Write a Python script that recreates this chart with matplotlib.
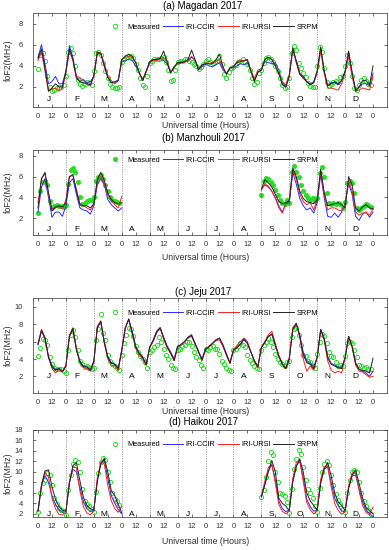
import numpy as np
import matplotlib
matplotlib.use("Agg")
import matplotlib.pyplot as plt

plt.rcParams['font.family'] = ['Liberation Sans', 'DejaVu Sans']

months = ['J', 'F', 'M', 'A', 'M', 'J', 'J', 'A', 'S', 'O', 'N', 'D']
H3 = [0, 3, 6, 9, 12, 15, 18, 21]           # model sample hours within a month
H2 = [0, 2, 4, 6, 8, 10, 12, 14, 16, 18, 20, 22]  # measured sample hours

# ---------------- (a) Magadan ----------------
a_ccir = [
    [4.8, 6.0, 4.2, 2.3, 2.5, 3.0, 2.3, 2.3],
    [3.5, 5.9, 4.8, 3.0, 2.5, 2.7, 2.4, 2.5],
    [3.0, 5.2, 5.2, 4.0, 2.9, 2.4, 2.4, 2.7],
    [4.4, 4.5, 4.6, 4.5, 4.0, 3.3, 2.7, 3.5],
    [4.3, 4.6, 4.6, 4.7, 4.5, 4.2, 3.4, 3.9],
    [4.2, 4.3, 4.4, 4.5, 4.8, 4.5, 3.7, 3.9],
    [4.2, 4.0, 3.9, 4.1, 4.3, 3.6, 3.3, 3.8],
    [3.8, 4.0, 4.2, 4.1, 4.3, 3.5, 2.6, 3.4],
    [3.6, 4.4, 4.3, 4.2, 4.3, 3.6, 2.4, 2.0],
    [3.0, 5.6, 4.5, 3.3, 3.0, 2.5, 2.3, 2.5],
    [3.5, 5.7, 3.5, 2.1, 2.4, 2.4, 2.2, 2.6],
    [3.5, 5.2, 3.3, 1.7, 2.0, 2.3, 2.3, 2.1]]
a_ursi = [
    [4.5, 5.3, 3.5, 1.6, 1.8, 1.9, 1.6, 1.9],
    [3.3, 5.4, 4.5, 3.0, 2.9, 2.6, 2.3, 2.1],
    [3.0, 5.3, 5.2, 4.2, 3.1, 2.6, 2.3, 2.6],
    [4.6, 4.8, 4.9, 4.8, 4.3, 3.3, 2.6, 3.4],
    [4.3, 4.5, 4.5, 4.7, 4.8, 4.5, 3.4, 3.8],
    [4.3, 4.4, 4.3, 4.5, 4.9, 4.5, 3.7, 4.0],
    [4.3, 4.4, 4.3, 4.4, 4.6, 3.8, 3.2, 3.8],
    [3.9, 4.4, 4.5, 4.5, 4.5, 3.6, 2.8, 3.6],
    [3.7, 4.6, 4.8, 4.6, 4.0, 3.2, 2.5, 2.2],
    [3.2, 5.6, 4.3, 3.2, 2.8, 2.5, 2.2, 2.4],
    [3.3, 5.4, 3.3, 1.9, 1.9, 1.8, 1.7, 2.3],
    [3.3, 4.9, 3.0, 1.6, 1.7, 1.9, 1.8, 1.7]]
a_srpm = [
    [4.7, 5.6, 3.8, 1.6, 1.9, 2.3, 2.0, 2.0],
    [3.5, 5.6, 4.6, 2.8, 2.5, 2.4, 2.3, 2.2],
    [3.1, 5.3, 5.1, 4.0, 2.9, 2.4, 2.5, 2.6],
    [4.6, 4.9, 5.1, 4.9, 4.3, 3.4, 2.6, 3.5],
    [4.4, 4.6, 4.6, 4.7, 5.4, 4.3, 3.3, 3.9],
    [4.3, 4.3, 4.4, 4.6, 5.5, 4.6, 3.6, 4.1],
    [4.2, 4.2, 4.2, 4.6, 5.1, 3.9, 3.2, 3.8],
    [3.9, 4.3, 4.4, 4.5, 4.6, 3.5, 2.5, 3.4],
    [3.6, 4.6, 4.8, 4.6, 4.0, 3.3, 2.2, 2.0],
    [3.0, 5.7, 4.4, 3.2, 2.9, 2.5, 2.2, 2.4],
    [3.5, 5.8, 3.5, 2.1, 2.3, 2.5, 2.3, 2.6],
    [3.5, 5.4, 3.4, 1.6, 2.0, 2.6, 2.6, 2.2]]
a_meas = [
    [3.7, 5.0, 5.2, 4.5, 3.0, 2.0, 1.6, 1.7, 1.9, 2.0, 2.0, 2.2],
    [3.0, 5.3, 5.7, 5.2, 4.0, 2.7, 2.3, 2.1, 2.3, 2.5, 2.4, 2.2],
    [3.5, 5.2, 5.3, 5.0, 4.3, 3.5, 2.8, 2.3, 2.0, 1.9, 1.9, 2.0],
    [4.4, 4.6, 4.8, 4.9, 4.9, 4.7, 4.2, 3.6, 2.8, 2.2, 2.0, 3.0],
    [4.3, 4.5, 4.6, 4.6, 4.6, 4.7, 4.8, 4.4, 3.6, 2.6, 2.7, 3.6],
    [4.4, 4.5, 4.5, 4.6, 4.6, 4.5, 4.4, 4.2, 4.0, 3.7, 3.9, 4.2],
    [4.5, 4.6, 4.4, 4.3, 4.4, 4.5, 4.9, 4.2, 3.2, 2.8, 3.4, 3.8],
    [3.9, 4.1, 4.4, 4.5, 4.6, 4.4, 4.2, 3.6, 2.8, 2.3, 2.5, 3.3],
    [3.6, 4.3, 4.7, 4.8, 4.6, 4.4, 4.0, 3.5, 2.8, 2.2, 1.9, 2.0],
    [2.8, 5.2, 5.9, 5.5, 4.3, 3.8, 3.3, 2.9, 2.4, 2.1, 2.0, 2.0],
    [4.0, 5.8, 5.3, 3.8, 2.5, 2.1, 2.3, 2.5, 2.6, 2.5, 2.9, 3.0],
    [4.0, 5.0, 4.3, 3.0, 1.9, 1.7, 2.2, 2.7, 2.8, 2.6, 2.3, 2.2]]
a_end_hours = [288]
a_ccir_end = [3.3]
a_ursi_end = [3.0]
a_srpm_end = [4.0]

# ---------------- (b) Manzhouli ----------------
b_ccir = [
    [2.6, 5.0, 5.8, 4.0, 2.1, 2.6, 2.6, 2.2],
    [3.2, 5.4, 5.8, 4.3, 3.0, 2.8, 2.7, 2.4],
    [3.2, 5.2, 5.8, 5.2, 3.8, 3.3, 3.0, 2.7],
    None, None, None, None, None,
    [4.8, 5.2, 5.0, 4.6, 4.0, 3.2, 2.6, 3.4],
    [3.5, 6.4, 5.3, 3.9, 3.2, 2.8, 3.0, 2.5],
    [3.5, 6.2, 4.0, 2.2, 2.1, 2.5, 2.1, 2.6],
    [3.5, 5.3, 4.3, 2.2, 1.8, 2.4, 2.6, 2.1]]
b_ursi = [
    [3.5, 5.8, 6.3, 4.3, 2.9, 3.0, 3.1, 2.9],
    [3.8, 6.0, 6.1, 4.8, 3.4, 3.2, 3.0, 2.8],
    [3.4, 5.6, 6.0, 5.3, 4.2, 3.7, 3.3, 3.0],
    None, None, None, None, None,
    [4.7, 5.3, 5.1, 4.6, 3.9, 3.0, 2.5, 3.4],
    [3.7, 6.6, 5.8, 4.3, 3.6, 3.3, 3.5, 2.8],
    [3.8, 6.4, 4.3, 2.8, 3.0, 3.0, 2.8, 2.7],
    [3.3, 5.6, 4.6, 2.6, 2.3, 2.5, 2.6, 2.3]]
b_srpm = [
    [3.0, 5.8, 6.4, 4.5, 2.7, 3.1, 3.2, 3.1],
    [3.5, 6.0, 6.2, 4.6, 3.3, 3.2, 3.2, 3.0],
    [3.4, 5.7, 6.4, 5.6, 4.4, 3.8, 3.5, 3.4],
    None, None, None, None, None,
    [4.8, 5.7, 5.4, 5.0, 4.3, 3.6, 3.4, 3.5],
    [3.7, 6.8, 6.0, 4.6, 3.9, 3.6, 3.5, 3.4],
    [3.8, 6.7, 4.5, 3.2, 3.3, 3.4, 3.5, 3.3],
    [3.0, 6.0, 5.2, 3.0, 2.7, 3.1, 3.3, 3.0]]
b_meas = [
    [2.5, 4.6, 5.5, 5.6, 5.2, 3.7, 3.0, 3.2, 3.3, 3.2, 3.2, 3.1],
    [3.3, 5.3, 6.6, 6.8, 6.4, 5.5, 4.0, 3.4, 3.5, 3.7, 3.8, 3.8],
    [4.0, 5.6, 6.0, 6.2, 5.8, 5.2, 4.6, 4.0, 3.8, 3.7, 3.6, 3.5],
    None, None, None, None, None,
    [4.2, 5.6, 5.9, 5.8, 5.5, 5.2, 4.7, 4.2, 3.8, 3.5, 3.4, 3.8],
    [3.5, 6.4, 7.0, 6.4, 6.0, 5.2, 4.6, 4.2, 3.9, 3.8, 3.9, 3.7],
    [3.9, 6.3, 6.9, 6.0, 4.4, 3.5, 3.4, 3.5, 3.4, 3.5, 3.4, 3.0],
    [3.6, 5.4, 5.6, 5.4, 4.4, 3.0, 2.8, 3.0, 3.2, 3.4, 3.3, 3.1]]
b_end_hours = [72, 288]
b_ccir_end = [3.0, 2.6]
b_ursi_end = [4.1, 2.9]
b_srpm_end = [3.5, 2.9]

# ---------------- (c) Jeju ----------------
c_ccir = [
    [5.6, 7.2, 6.3, 4.3, 3.3, 2.8, 2.9, 2.6],
    [3.2, 6.6, 7.4, 5.2, 3.8, 3.2, 3.1, 2.8],
    [3.8, 7.6, 8.2, 6.0, 4.3, 3.6, 3.4, 2.9],
    [5.0, 7.6, 8.5, 7.2, 5.5, 4.7, 4.2, 3.4],
    [5.3, 6.2, 7.2, 7.6, 6.5, 5.5, 4.8, 4.0],
    [5.5, 5.6, 6.0, 6.5, 6.8, 5.8, 4.9, 4.0],
    [5.2, 5.4, 5.8, 6.2, 6.4, 5.6, 4.6, 3.6],
    [5.0, 5.3, 5.7, 6.2, 5.8, 4.8, 3.8, 3.2],
    [5.3, 5.9, 6.6, 6.8, 5.6, 4.4, 3.5, 3.0],
    [4.0, 7.4, 8.0, 6.8, 4.8, 3.8, 3.6, 3.1],
    [4.2, 7.4, 6.4, 4.3, 3.5, 3.3, 3.1, 3.0],
    [4.2, 6.6, 5.5, 3.6, 2.8, 2.6, 2.4, 2.0]]
c_ursi = [
    [5.8, 7.4, 6.5, 4.2, 2.9, 2.4, 2.8, 2.6],
    [3.3, 6.7, 7.6, 5.2, 3.6, 3.0, 2.9, 2.6],
    [3.6, 7.8, 8.4, 5.8, 4.0, 3.3, 3.2, 2.7],
    [5.1, 7.6, 8.6, 6.8, 5.2, 4.4, 4.0, 3.3],
    [5.3, 6.0, 7.0, 7.5, 6.3, 5.3, 4.6, 3.8],
    [5.3, 5.6, 6.0, 6.4, 6.6, 5.7, 4.8, 3.8],
    [5.0, 5.5, 5.8, 6.1, 6.2, 5.4, 4.4, 3.5],
    [5.1, 5.5, 6.0, 6.4, 6.0, 4.8, 3.7, 3.0],
    [5.4, 6.0, 6.8, 7.2, 5.8, 4.4, 3.4, 2.9],
    [4.2, 7.6, 8.1, 6.5, 4.0, 2.6, 3.2, 2.7],
    [4.2, 7.3, 6.2, 3.8, 2.7, 2.4, 2.6, 2.4],
    [4.2, 6.6, 5.4, 3.3, 2.6, 2.5, 2.2, 1.9]]
c_srpm = [
    [5.7, 7.3, 6.4, 4.2, 3.1, 2.7, 2.9, 2.5],
    [3.2, 6.6, 7.5, 5.0, 3.7, 3.1, 3.1, 2.7],
    [3.7, 7.6, 8.3, 5.9, 4.2, 3.5, 3.4, 2.9],
    [5.0, 7.5, 8.6, 7.0, 5.4, 4.6, 4.2, 3.3],
    [5.4, 6.1, 7.1, 7.6, 6.4, 5.4, 4.7, 3.8],
    [5.4, 5.7, 6.0, 6.5, 6.7, 5.8, 4.8, 3.9],
    [5.1, 5.4, 5.8, 6.2, 6.4, 5.6, 4.5, 3.5],
    [5.0, 5.3, 5.7, 6.3, 5.8, 4.8, 3.8, 3.1],
    [5.3, 5.9, 6.6, 6.9, 5.6, 4.3, 3.4, 2.9],
    [4.0, 7.4, 8.1, 6.6, 4.5, 3.6, 3.4, 2.9],
    [4.2, 7.4, 6.3, 4.1, 3.4, 3.2, 3.0, 2.9],
    [4.1, 6.6, 5.4, 3.5, 2.8, 2.7, 2.6, 2.4]]
c_meas = [
    [4.3, 5.3, 6.3, 6.2, 5.6, 4.2, 3.4, 3.0, 2.8, 2.8, 2.9, 2.6],
    [2.4, 5.0, 6.8, 7.3, 6.5, 5.0, 3.8, 3.4, 3.1, 3.2, 3.0, 2.9],
    [3.0, 6.2, 7.4, 9.2, 7.0, 6.2, 4.5, 3.8, 3.4, 3.2, 3.0, 2.7],
    [4.5, 5.8, 6.8, 7.6, 7.4, 6.6, 5.5, 4.8, 4.3, 4.0, 3.6, 3.0],
    [4.8, 5.0, 5.4, 5.6, 6.5, 6.0, 5.2, 4.5, 4.0, 3.3, 3.0, 2.9],
    [5.0, 5.2, 5.5, 5.6, 6.0, 6.0, 5.5, 4.8, 4.2, 3.9, 3.3, 3.0],
    [5.2, 5.0, 5.4, 5.5, 5.2, 5.1, 4.6, 3.8, 3.4, 3.0, 2.7, 2.6],
    [5.0, 5.2, 5.5, 5.8, 5.6, 5.4, 4.5, 3.9, 3.5, 3.2, 3.0, 2.9],
    [5.0, 5.6, 6.0, 6.4, 6.0, 5.4, 4.6, 4.0, 3.7, 3.4, 3.2, 3.6],
    [3.8, 6.5, 7.5, 7.6, 6.8, 5.6, 4.5, 4.4, 3.8, 3.6, 3.2, 3.0],
    [4.6, 6.0, 6.9, 6.6, 5.8, 4.8, 4.4, 4.2, 3.6, 3.2, 3.3, 3.2],
    [4.3, 5.8, 6.0, 5.8, 5.0, 4.2, 3.3, 3.2, 3.0, 3.1, 2.8, 2.9]]
c_end_hours = [288]
c_ccir_end = [2.6]
c_ursi_end = [2.0]
c_srpm_end = [4.1]

# ---------------- (d) Haikou ----------------
d_ccir = [
    [2.6, 7.5, 9.3, 8.0, 5.5, 3.8, 2.8, 2.3],
    [2.4, 8.0, 10.5, 10.0, 7.0, 4.3, 3.0, 2.4],
    [2.8, 8.5, 11.8, 12.2, 8.8, 5.5, 4.0, 2.8],
    None, None, None, None, None,
    [5.3, 7.8, 10.2, 11.4, 8.5, 4.5, 3.0, 2.4],
    [2.8, 8.5, 11.3, 12.0, 8.8, 4.8, 3.4, 2.5],
    [2.8, 8.2, 10.5, 11.0, 8.0, 5.0, 3.6, 2.5],
    [2.5, 7.0, 9.2, 9.4, 6.8, 4.2, 2.8, 2.0]]
d_ursi = [
    [2.4, 7.6, 10.0, 9.0, 5.0, 3.0, 1.9, 1.8],
    [2.3, 8.2, 10.9, 10.8, 6.4, 3.4, 2.2, 1.8],
    [2.6, 8.8, 11.9, 11.5, 7.4, 4.5, 3.0, 2.3],
    None, None, None, None, None,
    [5.4, 8.2, 10.8, 11.5, 7.8, 3.8, 2.5, 2.0],
    [2.6, 8.7, 11.8, 12.2, 8.2, 4.2, 2.8, 2.0],
    [2.6, 8.6, 11.0, 11.0, 7.2, 4.0, 2.7, 1.9],
    [2.4, 7.4, 9.8, 9.8, 6.5, 3.6, 2.3, 1.8]]
d_srpm = [
    [2.5, 7.3, 10.2, 10.4, 7.2, 4.8, 3.4, 2.7],
    [2.5, 7.8, 11.2, 11.8, 8.3, 5.2, 3.6, 3.0],
    [2.7, 8.2, 11.5, 12.6, 10.0, 6.4, 5.5, 3.8],
    None, None, None, None, None,
    [5.2, 7.5, 10.0, 12.2, 10.0, 5.0, 4.0, 3.5],
    [2.6, 8.0, 11.0, 12.5, 10.0, 6.0, 4.5, 3.6],
    [2.7, 7.8, 10.6, 11.8, 9.3, 6.0, 4.3, 3.6],
    [2.6, 6.8, 9.4, 10.4, 7.8, 5.0, 3.2, 2.6]]
d_meas = [
    [2.4, 6.0, 7.8, 8.5, 9.8, 9.5, 7.5, 5.0, 3.8, 3.2, 2.8, 2.6],
    [1.8, 6.5, 9.5, 11.5, 12.2, 11.8, 10.0, 6.8, 4.5, 3.8, 3.5, 3.0],
    [2.4, 6.2, 9.8, 11.8, 12.6, 12.2, 10.0, 8.0, 6.0, 4.8, 4.5, 3.6],
    None, None, None, None, None,
    [5.3, 6.6, 9.0, 12.0, 13.8, 13.2, 10.0, 8.0, 6.0, 5.8, 5.5, 4.2],
    [2.2, 6.8, 10.5, 12.5, 14.2, 13.5, 11.0, 8.5, 6.8, 6.0, 5.0, 3.5],
    [2.4, 7.0, 10.0, 11.6, 12.0, 11.4, 9.5, 7.5, 5.8, 4.6, 3.8, 3.0],
    [2.3, 6.0, 8.5, 10.0, 10.3, 10.0, 8.0, 6.0, 4.5, 3.5, 2.8, 2.0]]
d_end_hours = [72, 288]
d_ccir_end = [2.0, 1.5]
d_ursi_end = [3.4, 3.3]
d_srpm_end = [2.2, 2.0]


def build(rows, hours, end_vals=(), end_hours=()):
    xs, ys = [], []
    for m, row in enumerate(rows):
        if row is None:
            xs.append(m * 24 + 12)
            ys.append(np.nan)
            continue
        xs += [m * 24 + h for h in hours]
        ys += list(row)
    xs += list(end_hours)
    ys += list(end_vals)
    order = np.argsort(xs, kind='stable')
    return np.array(xs)[order], np.array(ys, dtype=float)[order]


panels = [
    dict(title='(a) Magadan 2017', ccir=a_ccir, ursi=a_ursi, srpm=a_srpm, meas=a_meas,
         ends=(a_ccir_end, a_ursi_end, a_srpm_end), eh=a_end_hours,
         ylim=(0.1, 9.0), yticks=[2, 4, 6, 8], mon_y=0.85, filled=False,
         top=13, bottom=107, title_y=6, xlab_y=126, leg_y=0.85),
    dict(title='(b) Manzhouli 2017', ccir=b_ccir, ursi=b_ursi, srpm=b_srpm, meas=b_meas,
         ends=(b_ccir_end, b_ursi_end, b_srpm_end), eh=b_end_hours,
         ylim=(0.4, 8.55), yticks=[2, 4, 6, 8], mon_y=0.88, filled=True,
         top=150, bottom=235, title_y=138, xlab_y=258, leg_y=0.88),
    dict(title='(c) Jeju 2017', ccir=c_ccir, ursi=c_ursi, srpm=c_srpm, meas=c_meas,
         ends=(c_ccir_end, c_ursi_end, c_srpm_end), eh=c_end_hours,
         ylim=(0.1, 11.0), yticks=[2, 4, 6, 8, 10], mon_y=2.0, filled=False,
         top=298, bottom=393, title_y=292, xlab_y=411, leg_y=0.84),
    dict(title='(d) Haikou 2017', ccir=d_ccir, ursi=d_ursi, srpm=d_srpm, meas=d_meas,
         ends=(d_ccir_end, d_ursi_end, d_srpm_end), eh=d_end_hours,
         ylim=(1.4, 18.0), yticks=list(range(2, 19, 2)), mon_y=1.9, filled=False,
         top=430, bottom=517, title_y=422, xlab_y=542, leg_y=0.83),
]

W, H = 389, 550
fig = plt.figure(figsize=(W / 100, H / 100), dpi=100)
green = '#22e022'
xt = np.arange(0, 289, 12)
xtl = ['0' if t % 24 == 0 else '12' for t in xt]

for p in panels:
    ax = fig.add_axes([33 / W, 1 - p['bottom'] / H, 354 / W, (p['bottom'] - p['top']) / H])
    mx, my = build(p['meas'], H2)
    if p['filled']:
        ax.plot(mx, my, 'o', ms=3, mfc=green, mec=green, mew=0.6, ls='none', label='Measured')
    else:
        ax.plot(mx, my, 'o', ms=3, mfc='none', mec=green, mew=0.7, ls='none', label='Measured')
    for rows, ev, col, lab in [(p['ccir'], p['ends'][0], '#2a2aff', 'IRI-CCIR'),
                               (p['ursi'], p['ends'][1], '#ff2020', 'IRI-URSI'),
                               (p['srpm'], p['ends'][2], '#222222', 'SRPM')]:
        x, y = build(rows, H3, ev, p['eh'])
        ax.plot(x, y, color=col, lw=0.7, label=lab)
    for b in range(24, 288, 24):
        ax.axvline(b, color='#555555', ls=(0, (1, 1.5)), lw=0.5)
    for m, mname in enumerate(months):
        ax.text(m * 24 + 9, p['mon_y'], mname, ha='center', va='center', fontsize=6)
    ax.set_xlim(-4.3, 300)
    ax.set_ylim(*p['ylim'])
    ax.set_xticks(xt)
    ax.set_xticklabels(xtl)
    ax.set_yticks(p['yticks'])
    ax.tick_params(direction='in', top=True, right=True, length=2, width=0.5,
                   labelsize=5.5, colors='#333333')
    ax.tick_params(axis='x', pad=4)
    ax.tick_params(axis='y', pad=7)
    for s in ax.spines.values():
        s.set_linewidth(0.5)
        s.set_color('#333333')
    ax.set_ylabel('foF2(MHz)', fontsize=6.3, color='#333333')
    ax.yaxis.set_label_coords(-20 / 354, 0.5)
    fig.text(203 / W, 1 - p['title_y'] / H, p['title'], ha='center', va='center', fontsize=7)
    fig.text(206 / W, 1 - p['xlab_y'] / H, 'Universal time (Hours)', ha='center', va='center',
             fontsize=6.3, color='#333333')
    ax.legend(loc='center', bbox_to_anchor=(0.503, p['leg_y']), ncol=4, frameon=False,
              fontsize=5.3, handlelength=2.8, handletextpad=0.3, columnspacing=0.4,
              borderpad=0, borderaxespad=0)

fig.savefig('out.png', dpi=100)
